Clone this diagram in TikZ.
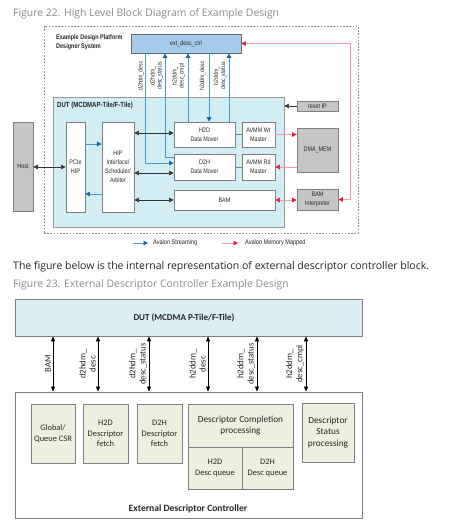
\documentclass[tikz,border=0pt]{standalone}
\usepackage{fontspec}
\setmainfont{Open Sans}
\newfontfamily\narrowf[FakeStretch=0.82]{Liberation Sans}
\newfontfamily\calib{Carlito}
\usetikzlibrary{arrows.meta}
\definecolor{capgray}{HTML}{8A8A8A}
\definecolor{extblue}{HTML}{A7CBEA}
\definecolor{dutblue}{HTML}{D3EDF5}
\definecolor{boxgray}{HTML}{C6C6C6}
\definecolor{lineblue}{HTML}{4A98CC}
\definecolor{tipblue}{HTML}{1466A8}
\definecolor{linered}{HTML}{F29AA8}
\definecolor{tipred}{HTML}{E0203C}
\definecolor{dutb}{HTML}{DAEEF3}
\definecolor{greenb}{HTML}{EBF1DE}
\definecolor{brd}{HTML}{7F7F7F}
\definecolor{txt}{HTML}{262626}
\tikzset{
  cr/.style args={#1/#2/#3/#4}{at={({(#1+#3)/2},{(#2+#4)/2})},minimum width={#3-#1},minimum height={#4-#2}},
  tbox/.style={draw=brd,line width=0.7pt,inner sep=0pt,align=center,text=txt,font=\narrowf\fontsize{6.6}{9}\selectfont},
  wbox/.style={tbox,fill=white},
  gbox/.style={tbox,fill=boxgray},
  vlab/.style={rotate=90,align=center,inner sep=0pt,text=txt,font=\narrowf\fontsize{6.2}{7}\selectfont},
  bluarr/.style={draw=lineblue,line width=0.6pt,-{Triangle[length=4.5pt,width=4.5pt,color=tipblue]}},
  redarr/.style={draw=linered,line width=0.6pt,-{Triangle[length=4.5pt,width=4.5pt,color=tipred]}},
  redboth/.style={draw=linered,line width=0.6pt,{Triangle[length=4.5pt,width=4.5pt,color=tipred]}-{Triangle[length=4.5pt,width=4.5pt,color=tipred]}},
  blkboth/.style={draw=black!80,line width=0.5pt,{Triangle[length=4.5pt,width=4.5pt]}-{Triangle[length=4.5pt,width=4.5pt]}},
  blkarr/.style={draw=black!80,line width=0.5pt,-{Triangle[length=4.5pt,width=4.5pt]}},
  gline/.style={draw=brd,line width=0.6pt},
  bbox/.style={draw=brd,line width=0.8pt,inner sep=0pt,align=center,text=txt,font=\calib\fontsize{8.4}{10.5}\selectfont},
  gnbox/.style={bbox,fill=greenb},
  bigtxt/.style={font=\calib\fontsize{9.3}{11.3}\selectfont},
  barr/.style={draw=black,line width=0.7pt,{Triangle[length=5pt,width=4pt]}-{Triangle[length=5pt,width=4pt]}},
  blab/.style={rotate=90,anchor=south,align=center,inner sep=1pt,text=txt,font=\calib\fontsize{8.8}{10.2}\selectfont},
  figcap/.style={anchor=west,inner sep=0pt,text=capgray,font=\fontsize{10.4}{12}\selectfont}
}
\begin{document}
\begin{tikzpicture}[x=1pt,y=-1pt]
\path[use as bounding box,fill=white] (0,0) rectangle (450,527);
% ---------- Figure 22 ----------
\node[figcap] (cap1) at (13,14) {Figure 22. High Level Block Diagram of Example Design};
\node[cr=44/26/358/233,draw=black!45,line width=0.6pt,dash pattern=on 1.6pt off 1.6pt] (plat) {};
\node[anchor=west,align=left,inner sep=0pt,text=txt,font=\narrowf\bfseries\fontsize{6.7}{9}\selectfont] (platlab) at (56,42) {Example Design Platform\\Designer System};
\node[cr=131/34/241/53,tbox,fill=extblue,draw=black!60] (ext) {ext\_desc\_ctrl};
\node[cr=53/97/284/227,tbox,fill=dutblue,draw=black!40] (dut1) {};
\node[anchor=west,inner sep=0pt,text=txt,font=\narrowf\bfseries\fontsize{7.4}{8}\selectfont] (dut1lab) at (57,106) {DUT (MCDMAP-Tile/F-Tile)};
\node[cr=13/122/33/211,gbox] (host) {Host};
\node[cr=66/122/85/212,wbox] (pcie) {PCIe\\HIP};
\node[cr=102/122/134/212,wbox] (hip) {HIP\\Interface/\\Scheduler/\\Arbiter};
\node[cr=174/122/235/147,wbox] (h2d) {H2D\\Data Mover};
\node[cr=174/154/235/180,wbox] (d2h) {D2H\\Data Mover};
\node[cr=242/122/275/147,wbox] (wr) {AVMM Wr\\Master};
\node[cr=242/154/275/180,wbox] (rd) {AVMM Rd\\Master};
\node[cr=174/190/275/210,wbox] (bam) {BAM};
\node[cr=297/101/338/111,gbox] (reset) {reset IP};
\node[cr=297/128/338/172,gbox] (mem) {DMA\_MEM};
\node[cr=297/189/338/210,gbox] (bami) {BAM\\Interpreter};
% labels of vertical links
\node[vlab] (v1) at (141,76) {d2hdm\_desc};
\node[vlab] (v2) at (156.5,76) {d2hdm\_\\desc\_status};
\node[vlab] (v3) at (178.5,76) {h2ddm\_\\desc\_cmpl};
\node[vlab] (v4) at (202.5,76) {h2ddm\_desc};
\node[vlab] (v5) at (220,76) {h2ddm\_\\desc\_status};
% connectors
\draw[bluarr] (ext.south -| 145,0) |- (d2h.west |- 0,163);
\draw[bluarr] (d2h.west |- 0,157) -| (ext.south -| 165,0);
\draw[bluarr] (h2d.north -| 188,0) -- (ext.south -| 188,0);
\draw[bluarr] (ext.south -| 209,0) -- (h2d.north -| 209,0);
\draw[bluarr] (h2d.north -| 229,0) -- (ext.south -| 229,0);
\draw[blkboth] (host.east |- 0,167) -- (pcie.west |- 0,167);
\draw[bluarr] (pcie.east |- 0,144) -- (hip.west |- 0,144);
\draw[bluarr] (hip.west |- 0,194) -- (pcie.east |- 0,194);
\draw[blkboth] (hip.east |- 0,133) -- (h2d.west |- 0,133);
\draw[blkboth] (hip.east |- 0,173) -- (d2h.west |- 0,173);
\draw[blkboth] (hip.east |- 0,200) -- (bam.west |- 0,200);
\draw[gline] (h2d.east) -- (wr.west);
\draw[gline] (d2h.east) -- (rd.west);
\draw[redarr] (wr.east) -- (wr.east -| mem.west);
\draw[redarr] (mem.west |- rd.east) -- (rd.east);
\draw[redboth] (bam.east) -- (bam.east -| bami.west);
\draw[blkarr] (reset.west) -- (reset.west -| dut1.east);
\coordinate (rc) at (350,43.5);
\draw[redboth] (bami.east) -| (rc) -- (ext.east);
% legend
\coordinate (ls1) at (133,243);
\coordinate (ls2) at (148,243);
\draw[bluarr] (ls1) -- (ls2);
\node[anchor=west,inner sep=0pt,text=txt,font=\narrowf\fontsize{6.8}{8}\selectfont] (lst) at (153,243) {Avalon Streaming};
\coordinate (lm1) at (222,243);
\coordinate (lm2) at (238,243);
\draw[redarr] (lm1) -- (lm2);
\node[anchor=west,inner sep=0pt,text=txt,font=\narrowf\fontsize{6.8}{8}\selectfont] (lmt) at (245,243) {Avalon Memory Mapped};
% ---------- text ----------
\node[anchor=west,inner sep=0pt,text=txt,font=\fontsize{10.5}{12}\selectfont] (para) at (13,267) {The figure below is the internal representation of external descriptor controller block.};
\node[figcap] (cap2) at (13,285) {Figure 23. External Descriptor Controller Example Design};
% ---------- Figure 23 ----------
\node[cr=15/299/362/336,bbox,fill=dutb] (dut2) {};
\node[inner sep=0pt,text=txt,font=\calib\bfseries\fontsize{9}{11}\selectfont] (dut2lab) at (184,318) {DUT (MCDMA P-Tile/F-Tile)};
\node[cr=15/392/362/518,bbox,fill=white] (edc) {};
\node[inner sep=0pt,text=txt,font=\calib\bfseries\fontsize{9.6}{11}\selectfont] (edclab) at (188,509) {External Descriptor Controller};
\node[cr=31/404/75/463,gnbox] (csr) {Global/\\Queue CSR};
\node[cr=83/404/128/463,gnbox] (hf) {H2D\\Descriptor\\fetch};
\node[cr=137/404/182/463,gnbox] (df) {D2H\\Descriptor\\fetch};
\node[cr=188/404/293/447,gnbox,bigtxt] (dcp) {Descriptor Completion\\processing};
\node[cr=188/447/242/489,gnbox] (hq) {H2D\\Desc queue};
\node[cr=242/447/293/489,gnbox] (dq) {D2H\\Desc queue};
\node[cr=302/403/354/462,gnbox,bigtxt] (dsp) {Descriptor\\Status\\processing};
% arrows
\draw[barr] (dut2.south -| 53,0) -- (edc.north -| 53,0);
\draw[barr] (dut2.south -| 98,0) -- (edc.north -| 98,0);
\draw[barr] (dut2.south -| 149,0) -- (edc.north -| 149,0);
\draw[barr] (dut2.south -| 208,0) -- (edc.north -| 208,0);
\draw[barr] (dut2.south -| 257,0) -- (edc.north -| 257,0);
\draw[barr] (dut2.south -| 306,0) -- (edc.north -| 306,0);
\node[blab] (b1) at (52,364) {BAM};
\node[blab] (b2) at (97,364) {d2hdm\_\\desc};
\node[blab] (b3) at (148,364) {d2hdm\_\\desc\_status};
\node[blab] (b4) at (207,364) {h2ddm\_\\desc};
\node[blab] (b5) at (256,364) {h2ddm\_\\desc\_status};
\node[blab] (b6) at (305,364) {h2ddm\_\\desc\_cmpl};
\end{tikzpicture}
\end{document}
